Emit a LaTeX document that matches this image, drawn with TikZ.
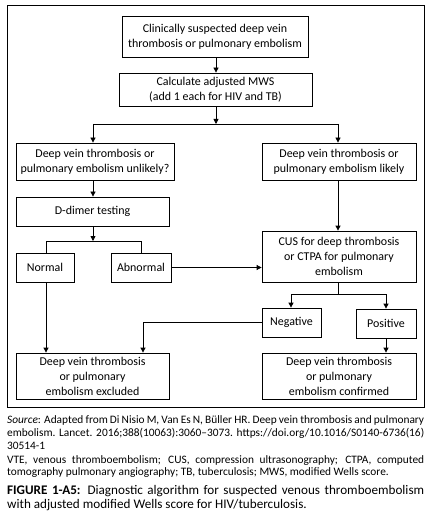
\documentclass[tikz,border=0pt]{standalone}
\usepackage{fontspec}
\setmainfont{Carlito}
\usetikzlibrary{arrows.meta,calc}
\begin{document}
\begin{tikzpicture}[x=1bp,y=-1bp,
  box/.style={draw,line width=0.8bp,inner sep=0pt,align=center,font=\fontsize{12}{15}\selectfont},
  arr/.style={line width=0.8bp,-{Triangle[length=5bp,width=5bp]}},
  ln/.style={line width=0.8bp},
  captxt/.style={anchor=west,inner sep=0pt,font=\fontsize{11.4}{12}\selectfont},
  figcap/.style={anchor=west,inner sep=0pt,font=\fontsize{13.2}{14}\selectfont}]
\useasboundingbox (0,0) rectangle (441,528);
\draw[line width=1bp] (7,6) rectangle (424,407);
\node[box,minimum width=186bp,minimum height=41bp] (b1) at (215,36.5) {Clinically suspected deep vein\\thrombosis or pulmonary embolism};
\node[box,minimum width=193bp,minimum height=33bp] (b2) at (215.5,89.5) {Calculate adjusted MWS\\(add 1 each for HIV and TB)};
\node[box,minimum width=158bp,minimum height=37bp] (b3) at (95,161.5) {Deep vein thrombosis or\\pulmonary embolism unlikely?};
\node[box,minimum width=154bp,minimum height=37bp] (b4) at (339,161.5) {Deep vein thrombosis or\\pulmonary embolism likely};
\node[box,minimum width=153bp,minimum height=29bp] (dd) at (92.5,211.5) {D-dimer testing};
\node[box,minimum width=58bp,minimum height=29bp] (normal) at (45,267.5) {Normal};
\node[box,minimum width=60bp,minimum height=29bp] (abn) at (141,267.5) {Abnormal};
\node[box,minimum width=154bp,minimum height=51bp] (cus) at (339,256.5) {CUS for deep thrombosis\\or CTPA for pulmonary\\embolism};
\node[box,minimum width=59bp,minimum height=29bp] (neg) at (291.5,322.5) {Negative};
\node[box,minimum width=60bp,minimum height=29bp] (pos) at (386,323.5) {Positive};
\node[box,minimum width=153bp,minimum height=46bp] (exc) at (92.5,376) {Deep vein thrombosis\\or pulmonary\\embolism excluded};
\node[box,minimum width=154bp,minimum height=46bp] (conf) at (339,376) {Deep vein thrombosis\\or pulmonary\\embolism confirmed};
% junctions
\coordinate (j1) at (216,124);
\coordinate (jl) at (93,124);
\coordinate (jr) at (338,124);
\coordinate (j2) at (93,241);
\coordinate (j2l) at (46,241);
\coordinate (j2r) at (141,241);
\coordinate (j3) at (338,294);
\coordinate (j3l) at (291,294);
\coordinate (j3r) at (386,294);
\coordinate (nk) at (143,323);
\draw[arr] (b1.south -| j1) -- (b2.north -| j1);
\draw[arr] (b2.south -| j1) -- (j1);
\draw[ln] (jl) -- (jr);
\draw[arr] (jl) -- (jl |- b3.north);
\draw[arr] (jr) -- (jr |- b4.north);
\draw[arr] (jl |- b3.south) -- (jl |- dd.north);
\draw[arr] (jl |- dd.south) -- (j2);
\draw[ln] (j2l |- normal.north) -- (j2l) -- (j2r) -- (j2r |- abn.north);
\draw[arr] (abn.east) -- (abn.east -| cus.west);
\draw[arr] (jr |- b4.south) -- (jr |- cus.north);
\draw[ln] (jr |- cus.south) -- (j3);
\draw[ln] (j3l) -- (j3r);
\draw[arr] (j3l) -- (j3l |- neg.north);
\draw[arr] (j3r) -- (j3r |- pos.north);
\draw[arr] (j2l |- normal.south) -- (j2l |- exc.north);
\draw[arr] (neg.west) -| (exc.north -| nk);
\draw[arr] (j3r |- pos.south) -- (j3r |- conf.north);
% caption
\node[captxt] (s1) at (7,420.7) {\makebox[417bp][s]{\textit{Source}: Adapted from Di Nisio M, Van Es N, Büller HR. Deep vein thrombosis and pulmonary}};
\node[captxt] (s2) at (7,433.3) {\makebox[417bp][s]{embolism. Lancet. 2016;388(10063):3060–3073. https://doi.org/10.1016/S0140-6736(16)}};
\node[captxt] (s3) at (7,445.7) {30514-1};
\node[captxt] (v1) at (7,461) {\makebox[417bp][s]{VTE, venous thromboembolism; CUS, compression ultrasonography; CTPA, computed}};
\node[captxt] (v2) at (7,472.7) {tomography pulmonary angiography; TB, tuberculosis; MWS, modified Wells score.};
\node[figcap] (f1) at (7,491) {\makebox[417bp][s]{\textbf{FIGURE 1-A5:} Diagnostic algorithm for suspected venous thromboembolism}};
\node[figcap] (f2) at (7,505.3) {with adjusted modified Wells score for HIV/tuberculosis.};
\end{tikzpicture}
\end{document}
